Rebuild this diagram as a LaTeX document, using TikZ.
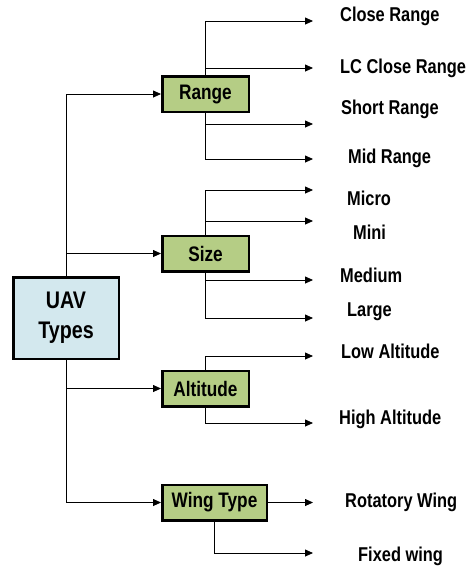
\documentclass[tikz,border=0pt]{standalone}
\usepackage{fontspec}
\setmainfont{Liberation Sans}[FakeStretch=0.82]
\usetikzlibrary{arrows.meta}
\definecolor{catgreen}{HTML}{B5CD85}
\definecolor{uavblue}{HTML}{D3E8EE}
\tikzset{
  box/.style={draw, line width=2.5pt, inner sep=0pt, font=\bfseries\fontsize{21}{24}\selectfont},
  cat/.style={box, fill=catgreen, minimum width=86.5pt, minimum height=35.5pt},
  leaf/.style={anchor=base west, inner sep=0pt, font=\bfseries\fontsize{20}{22}\selectfont},
  link/.style={-{Triangle[length=8pt,width=7pt]}, line width=0.8pt},
}
\begin{document}
\begin{tikzpicture}[x=1pt,y=-1pt]
  \useasboundingbox (0,0) rectangle (471,566);
  % categories
  \node[cat] (range) at (205.5,94) {Range};
  \node[cat] (size) at (205.5,253.5) {Size};
  \node[cat] (altitude) at (205.5,388.5) {Altitude};
  \node[cat, minimum width=104.5pt] (wing) at (214.5,502.5) {Wing Type};
  % arrow ends
  \coordinate (e1) at (313,21);
  \coordinate (e2) at (313,68);
  \coordinate (e3) at (313,124);
  \coordinate (e4) at (313,159);
  \coordinate (e5) at (313,190);
  \coordinate (e6) at (313,221);
  \coordinate (e7) at (313,280);
  \coordinate (e8) at (313,318);
  \coordinate (e9) at (313,356);
  \coordinate (e10) at (313,423);
  \coordinate (e11) at (313,502.5);
  \coordinate (e12) at (313,553);
  % trunk
  \draw[link] (66,318) |- (range);
  \draw[link] (66,318) |- (size);
  \draw[link] (66,318) |- (altitude);
  \draw[link] (66,318) |- (wing);
  \node[box, fill=uavblue, minimum width=105.5pt, minimum height=81.5pt, align=center,
    font=\bfseries\fontsize{24}{30}\selectfont] (uav) at (66,318) {UAV\\Types};
  % branches
  \draw[link] (range.north) |- (e1);
  \draw[link] (range.north) |- (e2);
  \draw[link] (range.south) |- (e3);
  \draw[link] (range.south) |- (e4);
  \draw[link] (size.north) |- (e5);
  \draw[link] (size.north) |- (e6);
  \draw[link] (size.south) |- (e7);
  \draw[link] (size.south) |- (e8);
  \draw[link] (altitude.north) |- (e9);
  \draw[link] (altitude.south) |- (e10);
  \draw[link] (wing.east) -- (e11);
  \draw[link] (wing.south) |- (e12);
  % labels
  \node[leaf] (close) at (340,21) {Close Range};
  \node[leaf] (lcclose) at (340,73) {LC Close Range};
  \node[leaf] (short) at (341,114) {Short Range};
  \node[leaf] (mid) at (348,163) {Mid Range};
  \node[leaf] (micro) at (347,205) {Micro};
  \node[leaf] (mini) at (353,239) {Mini};
  \node[leaf] (medium) at (340,282) {Medium};
  \node[leaf] (large) at (347,316) {Large};
  \node[leaf] (low) at (341,358) {Low Altitude};
  \node[leaf] (high) at (339,424) {High Altitude};
  \node[leaf] (rotatory) at (345,507) {Rotatory Wing};
  \node[leaf] (fixed) at (358,561) {Fixed wing};
\end{tikzpicture}
\end{document}
